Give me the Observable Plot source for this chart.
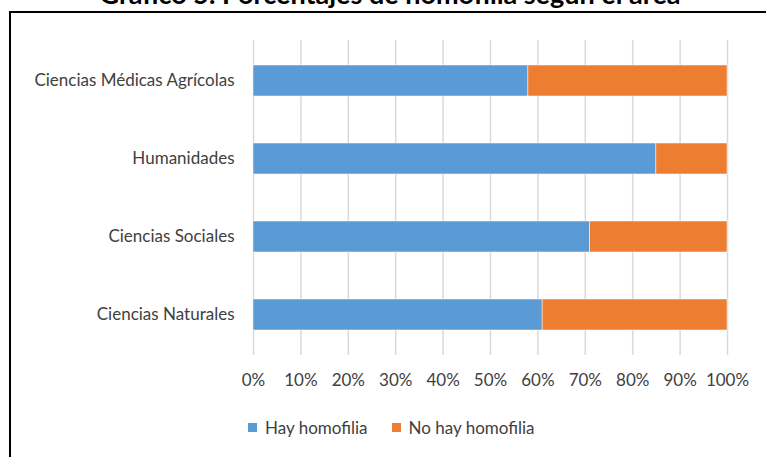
<!DOCTYPE html>
<html>
<head>
<meta charset="utf-8">
<script src="https://cdn.jsdelivr.net/npm/d3@7"></script>
<script src="https://cdn.jsdelivr.net/npm/@observablehq/plot@0.6"></script>
<style>
  html, body { margin: 0; padding: 0; background: #fff; }
  #wrap { position: relative; width: 766px; height: 457px; overflow: hidden; font-family: Lato, "Open Sans", sans-serif; }
  #title { position: absolute; left: 0; width: 780px; top: -22px; text-align: center; font-weight: bold; font-size: 27px; line-height: 32px; color: #000; white-space: nowrap; }
  #frame { position: absolute; left: 9px; top: 11px; width: 800px; height: 500px; border-left: 2.5px solid #000; border-top: 2.5px solid #000; box-sizing: border-box; }
  #chart { position: absolute; left: 0; top: 0; }
  #legend { position: absolute; left: 248px; top: 417px; font-size: 17px; color: #404040; display: flex; gap: 24px; align-items: center; }
  .item { display: flex; align-items: center; gap: 8px; }
  .sw { width: 9px; height: 9px; display: inline-block; }
</style>
</head>
<body>
<div id="wrap">
  <div id="title">Gráfico 5. Porcentajes de homofilia según el área</div>
  <div id="frame"></div>
  <div id="chart"></div>
  <div id="legend"></div>
</div>
<script>
const categories = ["Ciencias Médicas Agrícolas", "Humanidades", "Ciencias Sociales", "Ciencias Naturales"];
const seriesNames = ["Hay homofilia", "No hay homofilia"];
const hayHomofilia = [58, 85, 71, 61];
const noHayHomofilia = [42, 15, 29, 39];
const tickValues = [0, 10, 20, 30, 40, 50, 60, 70, 80, 90, 100];
const colors = ["#5B9BD5", "#ED7D31"];

const rows = [];
categories.forEach((c, i) => {
  rows.push({area: c, serie: seriesNames[0], value: hayHomofilia[i]});
  rows.push({area: c, serie: seriesNames[1], value: noHayHomofilia[i]});
});

const chart = Plot.plot({
  width: 766,
  height: 400,
  marginLeft: 253,
  marginRight: 39,
  marginTop: 40,
  marginBottom: 45,
  style: {fontFamily: "Lato, 'Open Sans', sans-serif", fontSize: "17px", color: "#404040", background: "transparent", overflow: "visible"},
  x: {domain: [0, 100], ticks: tickValues, tickFormat: d => d + "%", tickSize: 0, tickPadding: 18, label: null},
  y: {domain: categories, paddingInner: 0.6, paddingOuter: 0.3, tickSize: 0, tickPadding: 19, label: null},
  color: {domain: seriesNames, range: colors},
  marks: [
    Plot.ruleX(tickValues, {stroke: "#d9d9d9", strokeWidth: 1.5}),
    Plot.barX(rows, Plot.stackX({y: "area", x: "value", fill: "serie", order: seriesNames, stroke: "#fff", strokeWidth: 0.5})),
    Plot.axisX({ticks: tickValues, tickFormat: d => d + "%", tickSize: 0, tickPadding: 18, fill: "#404040"}),
    Plot.axisY({tickSize: 0, tickPadding: 19, fill: "#404040"})
  ]
});
document.getElementById("chart").appendChild(chart);

const legend = document.getElementById("legend");
seriesNames.forEach((s, i) => {
  const it = document.createElement("div");
  it.className = "item";
  const sw = document.createElement("span");
  sw.className = "sw";
  sw.style.background = colors[i];
  const t = document.createElement("span");
  t.textContent = s;
  it.appendChild(sw);
  it.appendChild(t);
  legend.appendChild(it);
});
</script>
</body>
</html>
